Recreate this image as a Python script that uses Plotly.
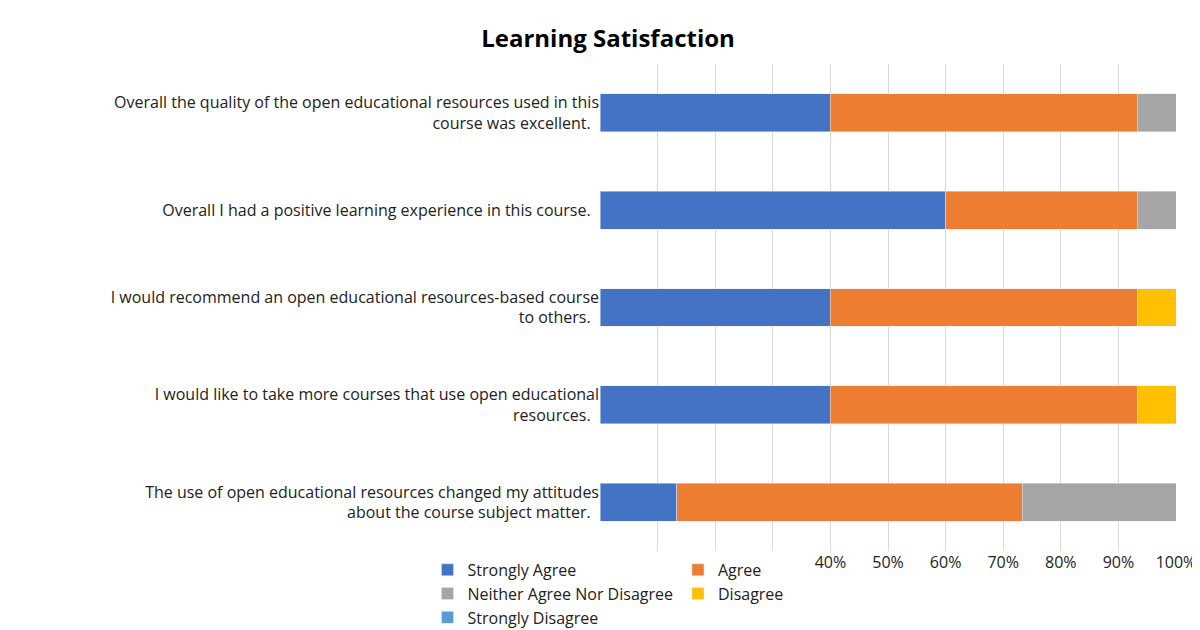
import plotly.graph_objects as go

questions = [
    "Overall the quality of the open educational resources used in this<br>course was excellent.",
    "Overall I had a positive learning experience in this course.",
    "I would recommend an open educational resources-based course<br>to others.",
    "I would like to take more courses that use open educational<br>resources.",
    "The use of open educational resources changed my attitudes<br>about the course subject matter.",
]
series = ["Strongly Agree", "Agree", "Neither Agree Nor Disagree", "Disagree", "Strongly Disagree"]
colors = ["#4472C4", "#ED7D31", "#A5A5A5", "#FFC000", "#5B9BD5"]
values = [
    [40.0, 60.0, 40.0, 40.0, 13.3],
    [53.3, 33.3, 53.3, 53.3, 60.0],
    [6.7, 6.7, 0, 0, 26.7],
    [0, 0, 6.7, 6.7, 0],
    [0, 0, 0, 0, 0],
]

fig = go.Figure()
for name, col, vals in zip(series, colors, values):
    fig.add_trace(go.Bar(y=questions, x=[v / 100 for v in vals], name=name,
                         orientation="h", marker_color=col, width=0.39))

fig.update_layout(
    barmode="stack",
    width=1200, height=630,
    paper_bgcolor="white", plot_bgcolor="white",
    font=dict(family="Open Sans, Noto Sans, sans-serif", size=16, color="#222"),
    title=dict(text="<b>Learning Satisfaction</b>", x=0.5, y=0.965, font=dict(size=24, color="#000")),
    margin=dict(l=592, r=32, t=56, b=87, autoexpand=False),
    legend=dict(orientation="h", xref="container", x=0.5, xanchor="center",
                yref="container", y=0.005, yanchor="bottom",
                font=dict(size=16), traceorder="normal", itemwidth=30),
)
fig.update_xaxes(range=[0, 1], tickformat=".0%", dtick=0.1, showgrid=True,
                 gridcolor="#D9D9D9", zeroline=False, ticks="", tickfont=dict(size=16))
fig.update_yaxes(autorange="reversed", ticks="", ticksuffix="  ", automargin=False,
                 tickfont=dict(size=16))

fig.write_html("out.html")
